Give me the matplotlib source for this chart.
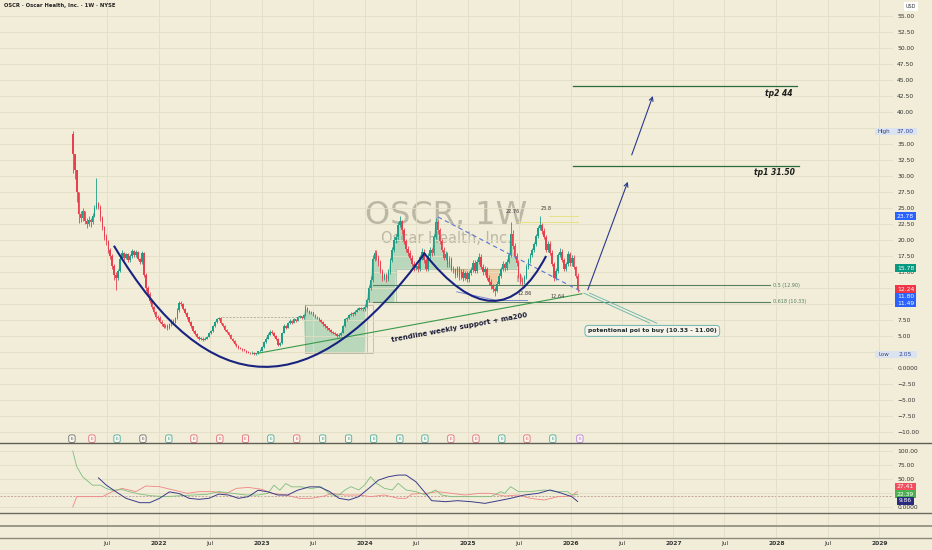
import numpy as np
import pandas as pd
import matplotlib
matplotlib.use("Agg")
import matplotlib.pyplot as plt
import matplotlib.dates as mdates
from matplotlib.path import Path
from matplotlib.patches import PathPatch, Rectangle
from matplotlib.lines import Line2D

plt.rcParams['font.family'] = ['DejaVu Sans']

# ---- weekly candles (first bar = week of 2021-03-01) ----
first_open = 36.5
close_2021 = [33.5, 31.0, 27.5, 24.0, 23.5, 24.5, 23.0, 22.5, 23.2, 22.8,
              23.8, 25.0, 25.8, 25.2, 23.5, 22.0, 20.5, 19.8, 18.5, 17.5,
              16.0, 14.5, 14.0, 15.2, 17.0, 18.0, 17.2, 17.8, 16.8, 17.5,
              18.3, 17.6, 18.2, 17.0, 16.5, 18.0, 14.5, 12.5, 11.5, 10.5,
              9.5, 8.7, 8.0, 7.8]
high_2021 = [37.0, 33.5, 31.0, 27.5, 24.5, 25.0, 24.5, 23.5, 23.8, 23.5,
             24.2, 25.5, 29.7, 26.0, 25.5, 23.8, 22.2, 21.0, 20.0, 18.8,
             17.8, 16.3, 15.0, 15.5, 17.3, 18.4, 18.2, 18.0, 18.0, 17.8,
             18.6, 18.5, 18.4, 18.3, 17.2, 18.3, 18.2, 14.8, 12.8, 11.8,
             10.7, 9.7, 8.9, 8.3]
low_2021 = [30.5, 29.5, 26.0, 22.6, 22.8, 23.0, 22.5, 21.8, 22.2, 22.0,
            22.5, 23.6, 24.8, 24.8, 23.0, 21.5, 20.0, 19.2, 18.0, 17.0,
            15.5, 13.8, 12.2, 13.8, 15.0, 16.8, 16.8, 17.0, 16.5, 16.6,
            17.2, 17.3, 17.4, 16.8, 16.2, 16.3, 14.2, 12.0, 11.2, 10.2,
            9.2, 8.4, 7.7, 7.5]

close_2022 = [7.2, 6.8, 6.4, 6.6, 6.2, 6.8, 7.4, 7.1, 7.8, 9.0,
              10.2, 10.0, 9.2, 8.6, 7.9, 7.2, 6.5, 5.8, 5.3, 4.9,
              4.6, 4.6, 4.4, 4.6, 4.9, 5.4, 5.8, 6.5, 7.2, 7.6,
              7.8, 7.0, 6.6, 6.0, 5.6, 5.2, 4.6, 4.2, 3.8, 3.5,
              3.2, 3.0, 2.8, 2.7, 2.5, 2.4, 2.3, 2.4, 2.2, 2.3,
              2.6, 2.7]
high_2022 = [8.1, 7.5, 7.0, 6.9, 6.8, 7.0, 7.6, 7.6, 8.0, 9.3,
             10.5, 10.4, 10.1, 9.3, 8.7, 8.0, 7.3, 6.6, 5.9, 5.4,
             5.0, 4.9, 4.8, 4.8, 5.0, 5.6, 6.0, 6.7, 7.4, 7.8,
             8.0, 7.9, 7.1, 6.7, 6.1, 5.7, 5.3, 4.7, 4.3, 3.9,
             3.6, 3.3, 3.1, 2.9, 2.8, 2.6, 2.5, 2.6, 2.5, 2.4,
             2.7, 2.9]
low_2022 = [7.0, 6.6, 6.2, 6.2, 6.0, 6.1, 6.6, 6.9, 7.0, 7.6,
            8.8, 9.7, 9.0, 8.4, 7.7, 7.0, 6.3, 5.6, 5.1, 4.7,
            4.4, 4.4, 4.2, 4.3, 4.5, 4.8, 5.3, 5.7, 6.4, 7.1,
            7.5, 6.8, 6.4, 5.8, 5.4, 5.0, 4.5, 4.0, 3.6, 3.3,
            3.0, 2.9, 2.7, 2.6, 2.4, 2.3, 2.2, 2.2, 2.1, 2.05,
            2.2, 2.5]

close_2023 = [3.3, 4.0, 4.6, 5.2, 5.7, 5.5, 5.0, 4.6, 3.6, 3.9,
              5.5, 6.6, 6.3, 7.0, 7.4, 7.1, 7.6, 7.4, 7.9, 8.1,
              7.8, 8.3, 9.4, 8.9, 8.6, 8.7, 8.3, 8.0, 7.8, 7.5,
              7.2, 6.8, 6.5, 6.2, 6.0, 5.7, 5.5, 5.3, 5.0, 5.2,
              5.5, 6.5, 7.6, 7.8, 8.3, 8.5, 8.4, 8.8, 9.1, 9.4,
              9.2, 9.2]
high_2023 = [3.4, 4.2, 4.8, 5.4, 5.9, 5.9, 5.6, 5.1, 4.7, 4.1,
             5.7, 6.8, 6.7, 7.2, 7.6, 7.5, 7.8, 7.7, 8.1, 8.3,
             8.2, 8.5, 9.8, 9.5, 9.0, 8.9, 8.8, 8.4, 8.1, 7.9,
             7.6, 7.3, 6.9, 6.6, 6.3, 6.1, 5.8, 5.6, 5.4, 5.4,
             5.7, 6.7, 7.8, 8.0, 8.5, 8.7, 8.7, 9.0, 9.3, 9.6,
             9.6, 9.5]
low_2023 = [2.6, 3.2, 3.9, 4.5, 5.1, 5.3, 4.8, 4.4, 3.4, 3.5,
            3.8, 5.4, 6.1, 6.2, 6.9, 6.9, 7.0, 7.2, 7.3, 7.8,
            7.6, 7.7, 8.2, 8.7, 8.4, 8.4, 8.1, 7.8, 7.6, 7.3,
            7.0, 6.6, 6.3, 6.0, 5.8, 5.5, 5.3, 5.1, 4.8, 4.9,
            5.0, 5.4, 6.4, 7.4, 7.7, 8.2, 8.1, 8.3, 8.7, 9.0,
            9.0, 8.9]

close_2024 = [9.6, 10.6, 12.5, 13.8, 17.0, 18.0, 17.2, 16.5, 15.2, 14.0,
              14.5, 13.9, 15.0, 16.8, 18.5, 20.0, 20.5, 22.4, 22.9, 21.5,
              19.8, 18.6, 18.0, 17.2, 16.3, 15.6, 16.0, 15.4, 17.3, 18.2,
              16.8, 15.5, 17.5, 18.4, 18.0, 20.5, 22.8, 21.5, 19.8, 18.5,
              17.2, 17.8, 16.2, 17.0, 15.5, 15.3, 14.5, 15.6, 14.2, 15.0,
              14.0, 14.8, 13.9]
high_2024 = [10.0, 11.0, 12.9, 14.3, 17.6, 18.5, 18.4, 17.6, 16.8, 15.5,
             14.9, 14.8, 15.4, 17.2, 18.9, 20.4, 21.0, 22.8, 23.8, 23.2,
             21.9, 20.2, 19.0, 18.4, 17.6, 16.7, 16.5, 16.4, 17.7, 18.7,
             18.6, 17.2, 17.9, 18.9, 18.8, 21.0, 23.5, 23.2, 21.9, 20.2,
             18.9, 18.3, 18.2, 17.5, 17.4, 16.0, 15.6, 16.0, 16.0, 15.4,
             15.4, 15.2, 15.2]
low_2024 = [8.9, 9.3, 10.3, 12.2, 13.5, 16.7, 16.8, 16.0, 14.8, 13.6,
            13.7, 13.5, 13.6, 14.7, 16.5, 18.2, 19.6, 20.2, 22.0, 21.0,
            19.4, 18.2, 17.5, 16.8, 15.9, 15.2, 15.3, 15.0, 15.1, 16.9,
            16.4, 15.1, 15.2, 17.1, 17.5, 17.6, 20.1, 21.0, 19.4, 18.1,
            16.8, 16.8, 15.8, 15.8, 15.1, 14.9, 14.1, 14.2, 13.8, 13.9,
            13.6, 13.7, 13.5]

close_2025 = [14.8, 15.3, 16.4, 15.2, 16.6, 17.4, 15.8, 15.0, 15.4, 14.0,
              13.4, 12.8, 12.3, 12.0, 13.2, 14.4, 15.4, 16.2, 15.6, 16.6,
              17.6, 21.0, 19.0, 17.5, 16.4, 14.5, 13.6, 13.4, 14.2, 15.8,
              16.8, 17.6, 18.4, 19.3, 20.6, 21.8, 22.3, 21.4, 20.5, 18.5,
              19.4, 18.0, 16.2, 14.0, 15.2, 17.6, 18.2, 16.9, 15.5, 16.2,
              17.8, 16.4]
high_2025 = [15.2, 15.8, 16.9, 16.8, 17.0, 17.9, 17.8, 16.2, 15.9, 15.8,
             14.5, 13.9, 13.2, 12.7, 13.6, 14.8, 15.8, 16.7, 16.6, 17.0,
             18.0, 22.8, 21.5, 19.5, 17.9, 16.8, 14.9, 14.2, 14.6, 16.2,
             17.2, 18.0, 18.8, 19.7, 21.0, 22.2, 23.8, 22.7, 21.8, 20.8,
             19.8, 19.8, 18.4, 16.5, 15.6, 18.0, 18.7, 18.6, 17.2, 16.6,
             18.3, 18.2]
low_2025 = [13.5, 14.6, 15.0, 14.8, 14.9, 16.3, 15.4, 14.6, 14.6, 13.7,
            13.0, 12.4, 11.9, 11.2, 11.8, 12.9, 14.1, 15.1, 15.2, 15.3,
            16.4, 17.4, 18.6, 17.1, 16.0, 14.1, 13.2, 12.86, 13.1, 13.9,
            15.5, 16.4, 17.3, 18.1, 19.0, 20.3, 21.5, 21.0, 20.1, 18.1,
            18.2, 17.6, 15.9, 13.6, 13.7, 14.9, 17.4, 16.5, 15.1, 15.2,
            15.9, 16.0]

close_2026 = [17.2, 15.8, 14.4, 12.24]
high_2026 = [17.6, 17.6, 16.0, 14.8]
low_2026 = [16.0, 15.5, 14.0, 11.8]

# ---- DMI / ADX (week index, value) ----
adx_wk = [13, 17, 22, 27, 34, 39, 44, 49, 54, 59, 64, 69, 74, 79, 84, 89, 94, 99, 104, 109,
          114, 120, 125, 130, 135, 140, 145, 150, 155, 160, 165, 169, 174, 179, 182, 189, 195,
          202, 209, 216, 222, 229, 236, 242, 247, 253, 256]
adx_val = [52, 39, 27, 15.5, 7.7, 7.7, 15.5, 27, 24, 15.5, 13.7, 15.5, 23, 21.4, 15.5, 18.5, 30,
           27, 21.4, 21.4, 30, 36, 36, 28, 15.5, 12.5, 18.5, 33, 48, 54, 57, 57, 45, 24, 11.3,
           9.5, 11.3, 9.5, 6.5, 11.3, 15.5, 21.4, 24.4, 30.4, 25.6, 18.5, 9.86]
pdi_wk = [0, 2, 5, 10, 14, 17, 20, 25, 29, 34, 40, 47, 54, 61, 68, 74, 81, 88, 94, 99,
          102, 105, 108, 111, 116, 121, 126, 131, 135, 138, 141, 145, 148, 151, 154, 158, 162,
          165, 169, 174, 179, 184, 187, 192, 199, 206, 212, 217, 219, 222, 226, 232, 239, 246,
          251, 253, 256]
pdi_val = [100, 72, 54, 39, 39, 33, 30, 31, 27, 23, 20, 18.5, 20, 21.4, 22.6, 27.4, 24.4, 21.4,
           21.4, 24.4, 39, 30, 42, 36, 36, 33, 36, 21.4, 21.4, 30.4, 36.3, 30.4, 39.3, 54, 42.3,
           33.3, 30.4, 42.3, 30.4, 27.4, 21.4, 30.4, 21.4, 18.5, 18.5, 18.5, 18.5, 27.4, 24.4,
           36.3, 27.4, 27.4, 30.4, 27.4, 27.4, 21.4, 22.39]
mdi_wk = [0, 2, 10, 15, 20, 25, 32, 37, 44, 51, 58, 64, 71, 78, 83, 89, 96, 101, 108, 115,
          121, 128, 131, 138, 145, 151, 158, 165, 169, 172, 179, 185, 192, 199, 206, 212, 219,
          226, 232, 239, 246, 253, 255, 256]
mdi_val = [0, 18.5, 18.5, 18.5, 27.4, 33.3, 27.4, 37.5, 36.3, 30.4, 24.4, 27.4, 27.4, 24.4,
           33.3, 35, 31.5, 24.4, 21.4, 15.5, 15.5, 20, 24.4, 21.4, 21.4, 18.5, 21.4, 15.5, 15.5,
           23.2, 24.4, 27.4, 24.4, 21.4, 24.4, 24.4, 19.6, 21.4, 15.5, 12.5, 18.5, 19.6, 26, 27.41]

# earnings markers
earn_dates = ['2021-02-26', '2021-05-08', '2021-08-05', '2021-11-05', '2022-02-05',
              '2022-05-05', '2022-08-05', '2022-11-04', '2023-02-02', '2023-05-05',
              '2023-08-05', '2023-11-05', '2024-02-02', '2024-05-05', '2024-08-02',
              '2024-11-02', '2025-01-30', '2025-05-02', '2025-07-30', '2025-10-30',
              '2026-02-03']
earn_kind = ['k', 'r', 'g', 'k', 'g', 'r', 'r', 'r', 'g', 'r', 'g', 'g', 'g', 'g', 'g',
             'r', 'r', 'g', 'r', 'g', 'p']

# range band (step level) drawn as green / orange fill against close
band_start = ['2023-06-05', '2024-01-08', '2024-04-22']
band_level = [2.3, 10.3, 15.5]
band_end = '2025-07-07'

# drawings
cup1_t = ['2021-07-25', '2022-12-13', '2024-08-02']
cup1_p = [19.1, -18.2, 18.0]
cup2_t = ['2024-07-29', '2025-04-21', '2025-10-06']
cup2_p = [18.0, 3.2, 17.5]
fib_levels = [12.90, 10.33]
fib_names = ['0.5 (12.90)', '0.618 (10.33)']
tp_levels = [44.0, 31.5]
tp_names = ['tp2 44', 'tp1 31.50']

BG = '#f1edd8'
GRID = '#e2ddc4'
UP = '#1e9e86'
DN = '#e8404f'
NAVY = '#18237f'

W, H = 932, 550
fig = plt.figure(figsize=(9.32, 5.5), dpi=100)
fig.patch.set_facecolor(BG)


def px_axes(x0, y0, x1, y1):
    a = fig.add_axes([x0 / W, 1 - y1 / H, (x1 - x0) / W, (y1 - y0) / H])
    a.set_facecolor(BG)
    for s in a.spines.values():
        s.set_visible(False)
    return a


def D(s):
    return mdates.date2num(pd.Timestamp(s))


ax = px_axes(0, 0, 893, 443)
osc = px_axes(0, 443, 893, 513)
ax_e1 = px_axes(0, 513, 893, 526)
ax_e2 = px_axes(0, 526, 893, 538)

# time scale: 2022-01-01 at x=159 px, 102.9 px / year
x0 = D('2022-01-01')
ppd = 102.9 / 365.25
xlim = (x0 - 159 / ppd, x0 + (893 - 159) / ppd)
tick_dates = pd.date_range('2021-07-01', '2029-01-01', freq='6MS')
tick_num = mdates.date2num(tick_dates.to_pydatetime())
tick_lbl = [str(d.year) if d.month == 1 else 'Jul' for d in tick_dates]

for a in (ax, osc, ax_e1, ax_e2):
    a.set_xlim(*xlim)
    a.set_xticks(tick_num)
    a.tick_params(axis='x', length=0, labelbottom=False)
    a.grid(True, axis='x', color=GRID, lw=0.6, zorder=0)

# ---- price pane ----
closes = np.array(close_2021 + close_2022 + close_2023 + close_2024 + close_2025 + close_2026)
highs = np.array(high_2021 + high_2022 + high_2023 + high_2024 + high_2025 + high_2026)
lows = np.array(low_2021 + low_2022 + low_2023 + low_2024 + low_2025 + low_2026)
opens = np.concatenate([[first_open], closes[:-1]])
dates = pd.date_range('2021-03-01', periods=len(closes), freq='7D')
t = mdates.date2num(dates.to_pydatetime())

ax.set_ylim(-(443 - 368) / 6.4, 368 / 6.4)
yt = np.arange(-10, 55.01, 2.5)
ax.set_yticks(yt)
# labels hidden behind the High / Low boxes are left blank
ax.set_yticklabels(['' if v in (37.5, 2.5) else ('0.0000' if abs(v) < 1e-9 else
                    f'{v:.2f}'.replace('-', '\u2212')) for v in yt])
ax.yaxis.tick_right()
ax.tick_params(axis='y', length=0, labelsize=4.3, pad=3, labelcolor='#333333')
ax.grid(True, axis='y', color=GRID, lw=0.6, zorder=0)

# watermark
ax.text(D('2024-10-17'), 23.75, 'OSCR, 1W', fontsize=23, color='#aaa695', alpha=0.75,
        ha='center', va='center', zorder=1)
ax.text(D('2024-10-17'), 20.2, 'Oscar Health, Inc.', fontsize=10.5, color='#aaa695', alpha=0.75,
        ha='center', va='center', zorder=1)

# band fill
lv = np.full(len(t), np.nan)
for s, v in zip(band_start, band_level):
    lv[t >= D(s)] = v
lv[t >= D(band_end)] = np.nan
ok = ~np.isnan(lv)
ax.fill_between(t, np.where(ok, lv, closes), closes, where=ok & (closes >= np.nan_to_num(lv)),
                color='#3aa57a', alpha=0.3, lw=0, interpolate=True, zorder=1)
ax.fill_between(t, np.where(ok, lv, closes), closes, where=ok & (closes < np.nan_to_num(lv)),
                color='#f39a55', alpha=0.4, lw=0, interpolate=True, zorder=1)
ax.step(t[ok], lv[ok], where='post', color='#9cb8a0', lw=0.5, zorder=1)
ax.add_patch(Rectangle((D('2023-06-03'), 2.3), D('2024-01-30') - D('2023-06-03'), 7.5,
                       fill=False, ec='#bdb8a4', lw=0.6, zorder=1))
ax.add_patch(Rectangle((D('2025-06-23'), 13.4), 21, 1.2, fc='#7a7a72', alpha=0.45, lw=0, zorder=1))
ax.plot([D('2022-08-12'), D('2023-06-03')], [7.97, 7.97], color='#a09c8c', lw=0.5, ls=(0, (3, 2)),
        zorder=1)

# candles
col = np.where(closes >= opens, UP, DN)
ax.vlines(t, lows, highs, colors=col, lw=0.6, zorder=3)
body = np.where(np.abs(closes - opens) < 0.1, 0.1, closes - opens)
ax.bar(t, body, bottom=opens, width=5.6, color=col, lw=0, zorder=3)

# fib levels
for lvl, name in zip(fib_levels, fib_names):
    ax.plot([D('2024-01-30'), D('2027-12-09')], [lvl, lvl], color='#56805f', lw=0.8, zorder=4)
    ax.text(D('2027-12-20'), lvl, name, fontsize=3.5, color='#56805f', ha='left', va='center')

# cups
for ct, cp in ((cup1_t, cup1_p), (cup2_t, cup2_p)):
    verts = [(D(a), b) for a, b in zip(ct, cp)]
    ax.add_patch(PathPatch(Path(verts, [Path.MOVETO, Path.CURVE3, Path.CURVE3]),
                           fill=False, ec=NAVY, lw=1.5, zorder=5))
ax.plot([D('2024-11-23'), D('2025-04-14'), D('2025-08-01')], [11.9, 10.55, 10.55],
        color='#7f8bd0', lw=0.7, zorder=4)

# trendline + dashed resistance
ax.plot([D('2022-12-18'), D('2026-02-10')], [2.3, 11.6], color='#3a9a4c', lw=0.8, zorder=4)
ax.plot([D('2024-09-17'), D('2026-02-10')], [23.6, 11.9], color='#5a74d6', lw=0.8,
        ls=(0, (4, 3)), zorder=4)
ax.text(D('2024-12-03'), 6.4, 'trendline weekly support + ma200', fontsize=5, fontweight='bold',
        color='#1c1c3a', rotation=10.5, rotation_mode='anchor', ha='center', va='center', zorder=6)

# small level marks near highs
ax.plot([D('2025-06-25'), D('2026-01-28')], [22.76, 22.76], color='#e6df7a', lw=0.6, zorder=2)
ax.plot([D('2025-10-15'), D('2026-01-28')], [23.8, 23.8], color='#e6df7a', lw=0.6, zorder=2)
for d, p, s in (('2025-06-11', 24.4, '22.76'), ('2025-10-06', 25.0, '23.8'),
                ('2025-07-23', 11.7, '12.86'), ('2025-11-17', 11.25, '12.64')):
    ax.text(D(d), p, s, fontsize=3.6, color='#3a3a3a', ha='center', va='center', zorder=6)

# targets
for lvl, name, end, lp, lx in ((tp_levels[0], tp_names[0], '2028-03-14', 42.9, '2028-02-29'),
                               (tp_levels[1], tp_names[1], '2028-03-21', 30.5, '2028-03-07')):
    ax.plot([D('2026-01-09'), D(end)], [lvl, lvl], color='#2e6b3a', lw=0.9, zorder=4)
    ax.text(D(lx), lp, name, fontsize=5.5, fontweight='bold', style='italic', color='#1d1d1d',
            ha='right', va='center', zorder=6)

for (a0, p0), (a1, p1) in ((('2026-03-03', 12.2), ('2026-07-23', 29.1)),
                           (('2026-08-06', 33.3), ('2026-10-20', 42.5))):
    ax.annotate('', xy=(D(a1), p1), xytext=(D(a0), p0),
                arrowprops=dict(arrowstyle='->', color='#2b3990', lw=0.8, mutation_scale=7,
                                shrinkA=0, shrinkB=0), zorder=6)

# callout
for (a0, a1) in (('2026-02-17', '2026-10-09'), ('2026-03-10', '2026-11-03')):
    ax.plot([D(a0), D(a1)], [11.7, 7.0], color='#62b3ab', lw=0.6, zorder=5)
ax.text(D('2026-10-18'), 5.8, 'potentional poi to buy (10.33 - 11.00)', fontsize=4.3,
        fontweight='bold', color='#1d2b2b', ha='center', va='center', zorder=7,
        bbox=dict(boxstyle='round,pad=0.5,rounding_size=0.6', fc='#f6f4ea', ec='#6bb7b0', lw=0.7))

# earnings
kind_col = {'k': '#555555', 'r': '#e05262', 'g': '#2a9d8f', 'p': '#b565e6'}
for d, k in zip(earn_dates, earn_kind):
    ax.text(D(d), -11.05, 'E', fontsize=3.2, color=kind_col[k], ha='center', va='center',
            zorder=6, bbox=dict(boxstyle='round,pad=0.4', fc='#faf8ee', ec=kind_col[k], lw=0.5))

# ---- DMI pane ----
osc.set_ylim(-(513 - 507) / 0.56, (507 - 443) / 0.56)
osc.set_yticks([0, 25, 50, 75, 100])
osc.set_yticklabels(['0.0000', '25.00', '50.00', '75.00', '100.00'])
osc.yaxis.tick_right()
osc.tick_params(axis='y', length=0, labelsize=4.3, pad=3, labelcolor='#333333')
osc.grid(True, axis='y', color=GRID, lw=0.6, zorder=0)
osc.axhline(20, color='#b58a86', lw=0.5, ls=(0, (3, 2)), zorder=1)
osc.plot(t[mdi_wk], mdi_val, color='#f08585', lw=0.6, zorder=2)
osc.plot(t[pdi_wk], pdi_val, color='#7dbd7d', lw=0.6, zorder=2)
osc.plot(t[adx_wk], adx_val, color='#3b3b8a', lw=0.7, zorder=3)

for a in (ax_e1, ax_e2):
    a.set_yticks([])
ax_e2.tick_params(axis='x', labelbottom=True, labelsize=4.3, pad=2, labelcolor='#333333')
ax_e2.set_xticklabels(tick_lbl)
for lab in ax_e2.get_xticklabels():
    if lab.get_text() != 'Jul':
        lab.set_fontweight('bold')

# pane separators
for yy, c, lw in ((443, '#5f5f55', 1.0), (513, '#6a6a60', 1.0), (526, '#8c8a7c', 1.2),
                  (538, '#8c8a7c', 1.0)):
    fig.add_artist(Line2D([0, 1], [1 - yy / H] * 2, transform=fig.transFigure, color=c, lw=lw))

# header + price scale extras
fig.text(4 / W, 1 - 6 / H, 'OSCR \u00b7 Oscar Health, Inc. \u00b7 1W \u00b7 NYSE', fontsize=3.8,
         fontweight='bold', color='#222222', ha='left', va='center')
fig.text(911 / W, 1 - 6.5 / H, 'USD', fontsize=3.5, color='#333333', ha='center', va='center',
         bbox=dict(boxstyle='square,pad=0.4', fc='white', ec='none'))


def tag(y, text, fc, tc='white'):
    fig.text(905.5 / W, 1 - y / H, text, ha='center', va='center', fontsize=4.3, color=tc,
             bbox=dict(boxstyle='square,pad=0.25', fc=fc, ec='none'))


for y0, word, val in ((131.5, 'High', '37.00'), (354, 'Low', '2.05')):
    fig.add_artist(Rectangle((875 / W, 1 - (y0 + 3.5) / H), 42 / W, 7 / H,
                             transform=fig.transFigure, fc='#dbe3f0', ec='none'))
    fig.text(884 / W, 1 - y0 / H, word, ha='center', va='center', fontsize=4.0, color='#334477')
    fig.text(905.5 / W, 1 - y0 / H, val, ha='center', va='center', fontsize=4.3, color='#2a3f8f')

tag(216, '23.78', '#2962ff')
tag(268, '15.78', '#089981')
tag(289, '12.24', '#f23645')
tag(296.5, '11.80', '#2962ff')
tag(303.5, '11.49', '#2962ff')
tag(487, '27.41', '#f25060')
tag(494, '22.39', '#4caf50')
tag(501, '9.86', '#2a2a80')

fig.savefig('out.png', dpi=100, facecolor=BG)
